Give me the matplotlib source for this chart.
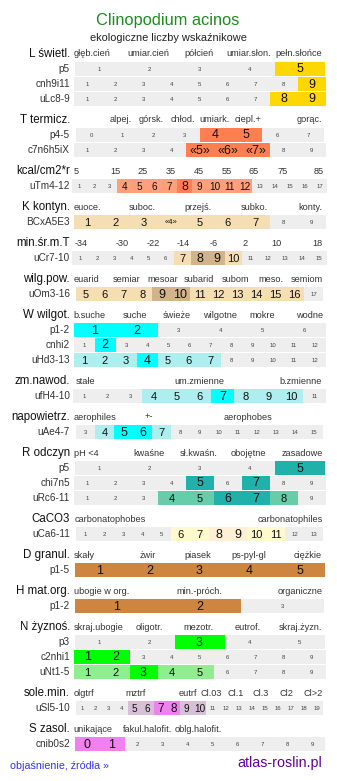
import matplotlib
matplotlib.use("Agg")
import matplotlib.pyplot as plt

plt.rcParams["font.family"] = ["Liberation Sans", "DejaVu Sans"]

title = "Clinopodium acinos"
subtitle = "ekologiczne liczby wskaźnikowe"

group_names = ["L świetl.", "T termicz.", "kcal/cm2*r", "K kontyn.", "min.śr.m.T",
               "wilg.pow.", "W wilgot.", "zm.nawod.", "napowietrz.", "R odczyn",
               "CaCO3", "D granul.", "H mat.org.", "N żyznoś.", "sole.min.", "S zasol."]

header_labels = [
    ["głęb.cień", "umiar.cień", "półcień", "umiar.słon.", "pełn.słońce"],
    ["alpej.", "górsk.", "chłod.", "umiark.", "ciepl.+", "gorąc."],
    ["5", "15", "25", "35", "45", "55", "65", "75", "85"],
    ["euoce.", "suboc.", "przejś.", "subko.", "konty."],
    ["-34", "-30", "-22", "-14", "-6", "2", "10", "18"],
    ["euarid", "semiar", "mesoar", "subarid", "subom", "meso.", "semiom"],
    ["b.suche", "suche", "świeże", "wilgotne", "mokre", "wodne"],
    ["stałe", "um.zmienne", "b.zmienne"],
    ["aerophiles", "+-", "aerophobes"],
    ["pH <4", "kwaśne", "sł.kwaśn.", "obojętne", "zasadowe"],
    ["carbonatophobes", "carbonatophiles"],
    ["skały", "żwir", "piasek", "ps-pyl-gl", "ciężkie"],
    ["ubogie w org.", "min.-próch.", "organiczne"],
    ["skraj.ubogie", "oligotr.", "mezotr.", "eutrof.", "skraj.żyzn."],
    ["olgtrf", "mztrf", "eutrf", "Cl.03", "Cl.1", "Cl.3", "Cl2", "Cl>2"],
    ["unikające", "fakul.halofit.", "oblg.halofit."],
]

row_labels = [
    ["p5", "cnh9i11", "uLc8-9"],
    ["p4-5", "c7n6h5iX"],
    ["uTm4-12"],
    ["BCxA5E3"],
    ["uCr7-10"],
    ["uOm3-16"],
    ["p1-2", "cnhi2", "uHd3-13"],
    ["ufH4-10"],
    ["uAe4-7"],
    ["p5", "chi7n5", "uRc6-11"],
    ["uCa6-11"],
    ["p1-5"],
    ["p1-2"],
    ["p3", "c2nhi1", "uNt1-5"],
    ["uSl5-10"],
    ["cnib0s2"],
]

row_first = [[1, 1, 1], [0, 1], [1], [1], [1], [5], [1, 1, 1], [1], [3],
             [1, 1, 1], [1], [1], [1], [1, 1, 1], [1], [0]]
row_last = [[5, 9, 9], [7, 9], [17], [9], [15], [17], [6, 12, 12], [11], [15],
            [5, 9, 9], [13], [5], [3], [5, 9, 9], [19], [9]]

row_light = [
    [[], [], []],
    [[], []],
    [[4, 5, 6, 7, 9, 10, 11, 12]],
    [[1, 2, 3, 4, 5, 6, 7]],
    [[7, 10]],
    [[5, 6, 7, 8, 11, 12, 13, 14, 15, 16]],
    [[], [], [1, 2, 3, 5, 6, 7]],
    [[4, 5, 6, 8, 9, 10]],
    [[4, 7]],
    [[], [], [4, 5, 8]],
    [[6, 7, 10, 11]],
    [[]],
    [[]],
    [[], [], [1, 2, 4, 5]],
    [[5, 6, 9, 10]],
    [[]],
]

row_strong = [
    [[5], [9], [8, 9]],
    [[4, 5], [5, 6, 7]],
    [[8]],
    [[]],
    [[8, 9]],
    [[9, 10]],
    [[1, 2], [2], [4]],
    [[7]],
    [[5, 6]],
    [[5], [5, 7], [6, 7]],
    [[8, 9]],
    [[1, 2, 3, 4, 5]],
    [[1, 2]],
    [[3], [1, 2], [3]],
    [[7, 8]],
    [[0, 1]],
]

row_quoted = [
    [[], [], []],
    [[], [5, 6, 7]],
    [[]],
    [[4]],
    [[]], [[]], [[], [], []], [[]], [[]], [[], [], []], [[]], [[]], [[]],
    [[], [], []], [[]], [[]],
]

# layout / style
header_x = [
    [92, 148, 199, 249, 299],
    [121, 151, 183, 215, 248, 309],
    [76, 115, 143, 171, 199, 227, 254, 283, 319],
    [87, 142, 198, 254, 310],
    [81, 122, 153, 183, 214, 245, 276, 317],
    [86, 127, 163, 199, 235, 271, 307],
    [89, 135, 177, 220, 262, 310],
    [85, 199, 301],
    [95, 149, 248],
    [86, 149, 199, 248, 302],
    [110, 290],
    [84, 148, 198, 249, 308],
    [102, 199, 300],
    [99, 149, 198, 248, 300],
    [84, 136, 188, 211, 236, 261, 286, 313],
    [93, 148, 198],
]

light_colors = ["#FFD700", "#FF7F50", "#FFA07A", "#F5DEB3", "#F5DEB3", "#F5DEB3",
                "#AFEEEE", "#AFEEEE", "#AFEEEE", "#66CDAA", "#FFFACD", "#CD853F",
                "#CD853F", "#90EE90", "#D8BFD8", "#EE82EE"]
strong_colors = ["#FFD700", "#FF7F50", "#FF7F50", "#F5DEB3", "#D2B48C", "#D2B48C",
                 "#00FFFF", "#00FFFF", "#00FFFF", "#20B2AA", "#FFEFD5", "#CD853F",
                 "#CD853F", "#00FF00", "#EE82EE", "#EE82EE"]

fig = plt.figure(figsize=(3.37, 7.81), dpi=100)
ax = fig.add_axes([0, 0, 1, 1])
ax.set_xlim(0, 337)
ax.set_ylim(781, 0)
ax.axis("off")

ax.text(168, 20, title, ha="center", va="center", fontsize=11.8, color="#1E8B1E")
ax.text(168, 38, subtitle, ha="center", va="center", fontsize=7.9, color="#222222")

y = 54
for g, name in enumerate(group_names):
    ax.text(70, y, name, ha="right", va="center", fontsize=8.3, color="#111111")
    for lab, hx in zip(header_labels[g], header_x[g]):
        ax.text(hx, y, lab, ha="center", va="center", fontsize=6.6, color="#333333")
    for r, rlab in enumerate(row_labels[g]):
        y += 15
        ax.text(70, y, rlab, ha="right", va="center", fontsize=7.2, color="#333333")
        values = list(range(row_first[g][r], row_last[g][r] + 1))
        n = len(values)
        w = round(250 / n)
        x0 = 199.5 - n * w / 2
        lefts = [x0 + i * w for i in range(n)]
        colors = []
        for v in values:
            if v in row_strong[g][r]:
                colors.append(strong_colors[g])
            elif v in row_light[g][r]:
                colors.append(light_colors[g])
            else:
                colors.append("#EEEEEE")
        ax.barh([y] * n, [w] * n, left=lefts, height=14, color=colors, linewidth=0)
        for v, lx in zip(values, lefts):
            txt = str(v)
            strong = v in row_strong[g][r]
            light = v in row_light[g][r]
            if v in row_quoted[g][r]:
                txt = "«" + txt + "»"
            if strong:
                fs, col = (9 if w >= 14 else 8.5), "#111111"
            elif light:
                if v in row_quoted[g][r]:
                    fs = 5.5
                else:
                    fs = 8 if w >= 16 else 7.2
                col = "#111111"
            else:
                fs, col = 4.3, "#444444"
            ax.text(lx + w / 2, y + 0.5, txt, ha="center", va="center", fontsize=fs, color=col)
    y += 21

ax.text(10, 766, "objaśnienie, źródła »", ha="left", va="center", fontsize=7.7, color="#3333EE")
ax.text(322, 763, "atlas-roslin.pl", ha="right", va="center", fontsize=10.3, color="#660099")

fig.savefig("out.png", dpi=100)
